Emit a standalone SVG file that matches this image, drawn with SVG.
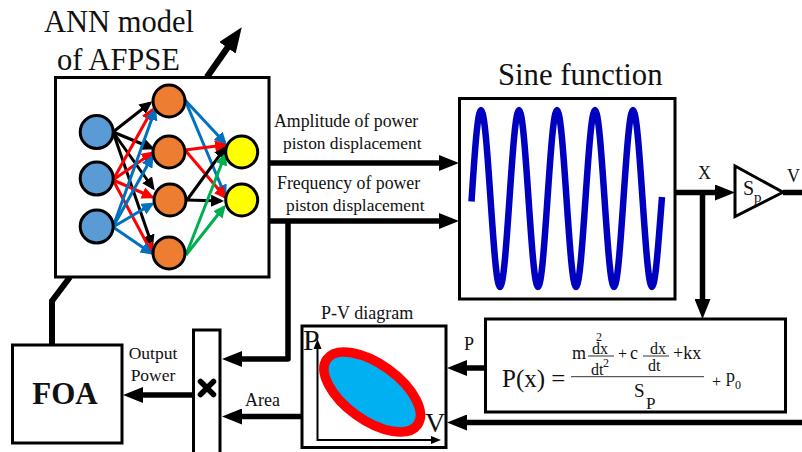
<svg xmlns="http://www.w3.org/2000/svg" width="802" height="452" viewBox="0 0 802 452">
<style>
text{font-family:"Liberation Serif","Times New Roman",serif;fill:#111}
.box{fill:#fff;stroke:#000;stroke-width:3}
.w{fill:none;stroke:#000;stroke-width:5.500}
.n{fill:none;stroke-width:3}
.k{stroke:#000}.r{stroke:#f00}.b{stroke:#0070c0}.g{stroke:#00b050}
.ci{fill:#5b9bd5;stroke:#000;stroke-width:3}
.ch{fill:#ed7d31;stroke:#000;stroke-width:3}
.co{fill:#ff0;stroke:#000;stroke-width:3}
.t18{font-size:18px}
.fl{stroke:#333;stroke-width:1;fill:none}
</style>
<defs>
<marker id="big" markerUnits="userSpaceOnUse" markerWidth="22" markerHeight="16" refX="1" refY="8" orient="auto"><path d="M0 0L20 8L0 16Z" fill="#000"/></marker>
<marker id="huge" markerUnits="userSpaceOnUse" markerWidth="26" markerHeight="20" refX="1" refY="10" orient="auto"><path d="M0 0L25 10L0 20Z" fill="#000"/></marker>
<marker id="ak" markerUnits="userSpaceOnUse" markerWidth="14" markerHeight="12" refX="10" refY="6" orient="auto"><path d="M0 0L13 6L0 12Z" fill="#000"/></marker>
<marker id="ar" markerUnits="userSpaceOnUse" markerWidth="14" markerHeight="12" refX="10" refY="6" orient="auto"><path d="M0 0L13 6L0 12Z" fill="#f00"/></marker>
<marker id="ab" markerUnits="userSpaceOnUse" markerWidth="14" markerHeight="12" refX="10" refY="6" orient="auto"><path d="M0 0L13 6L0 12Z" fill="#0070c0"/></marker>
<marker id="ag" markerUnits="userSpaceOnUse" markerWidth="14" markerHeight="12" refX="10" refY="6" orient="auto"><path d="M0 0L13 6L0 12Z" fill="#00b050"/></marker>
</defs>
<rect width="802" height="452" fill="#fff"/>

<g id="connectors">
<path class="w" style="stroke-width:6.500" d="M207 77L228 47" marker-end="url(#huge)"/>
<path class="w" style="stroke-width:6" d="M52 345V301L70 277"/>
<path class="w" d="M269 163H440" marker-end="url(#big)"/>
<path class="w" d="M269 221H440" marker-end="url(#big)"/>
<path class="w" d="M288 221V359H241" marker-end="url(#big)" stroke-linejoin="round"/>
<path class="w" d="M301 416.500H241" marker-end="url(#big)"/>
<path class="w" d="M193 395H142" marker-end="url(#big)"/>
<path class="w" d="M485 368H466" marker-end="url(#big)"/>
<path class="w" d="M802 422.500H466" marker-end="url(#big)"/>
<path class="w" d="M675 192.500H716" marker-end="url(#big)"/>
<path class="w" d="M702.500 192.500V300" marker-end="url(#big)"/>
<path class="w" d="M783 192.500H802"/>
</g>

<g id="ann-model">
<rect class="box" x="55.500" y="77.500" width="213.500" height="199.500"/>
<g>
<path class="n k" d="M113 132L150 103" marker-end="url(#ak)"/>
<path class="n k" d="M113 132L152 148" marker-end="url(#ak)"/>
<path class="n k" d="M113 132L153 188" marker-end="url(#ak)"/>
<path class="n k" d="M113 132L152 245" marker-end="url(#ak)"/>
<path class="n r" d="M113 180L152 110" marker-end="url(#ar)"/>
<path class="n r" d="M113 180L152 153" marker-end="url(#ar)"/>
<path class="n r" d="M113 180L152 197" marker-end="url(#ar)"/>
<path class="n r" d="M113 180L152 253" marker-end="url(#ar)"/>
<path class="n b" d="M113 227L155 110" marker-end="url(#ab)"/>
<path class="n b" d="M113 227L152 157" marker-end="url(#ab)"/>
<path class="n b" d="M113 227L152 204" marker-end="url(#ab)"/>
<path class="n b" d="M113 227L151 253" marker-end="url(#ab)"/>
<path class="n b" d="M185 100L225 143" marker-end="url(#ab)"/>
<path class="n b" d="M185 100L225 195" marker-end="url(#ab)"/>
<path class="n r" d="M185 150L225 145" marker-end="url(#ar)"/>
<path class="n r" d="M185 150L225 197" marker-end="url(#ar)"/>
<path class="n k" d="M187 200L225 148" marker-end="url(#ak)"/>
<path class="n k" d="M187 200L221 201" marker-end="url(#ak)"/>
<path class="n g" d="M186 255L225 155" marker-end="url(#ag)"/>
<path class="n g" d="M186 255L224 207" marker-end="url(#ag)"/>
</g>
<circle class="ci" cx="96.700" cy="132" r="16.500"/>
<circle class="ci" cx="96.700" cy="178.500" r="16.500"/>
<circle class="ci" cx="96.700" cy="226.500" r="16.500"/>
<circle class="ch" cx="169" cy="101" r="16"/>
<circle class="ch" cx="169" cy="152" r="16"/>
<circle class="ch" cx="170" cy="200" r="16"/>
<circle class="ch" cx="169" cy="253" r="16"/>
<circle class="co" cx="241.700" cy="152" r="16"/>
<circle class="co" cx="241.700" cy="200" r="16"/>
<text x="44" y="32" font-size="30.500">ANN model</text>
<text x="57" y="70" font-size="30.500">of AFPSE</text>
</g>

<g id="edge-labels">
<text class="t18" x="274" y="127" style="font-size:17.800px">Amplitude of power</text>
<text class="t18" x="283" y="149" style="font-size:17.400px">piston displacement</text>
<text class="t18" x="277" y="189" style="font-size:17.800px">Frequency of power</text>
<text class="t18" x="286" y="211" style="font-size:17.400px">piston displacement</text>
<text class="t18" x="698" y="179">X</text>
<text class="t18" x="787" y="182">V</text>
<text class="t18" x="464" y="350">P</text>
<text class="t18" x="245" y="406">Area</text>
<text class="t18" x="153" y="359" text-anchor="middle" style="font-size:17.500px">Output</text>
<text class="t18" x="153" y="381" text-anchor="middle" style="font-size:17.500px">Power</text>
</g>

<g id="sine-function">
<rect class="box" x="459.500" y="98.500" width="215.500" height="200.500"/>
<path d="M471.500 201.500C474.600 153.400 477.560 110 481 110C487.920 110 493.080 287 500 287C506.920 287 512.080 110 519 110C525.920 110 531.080 287 538 287C544.920 287 550.080 110 557 110C563.920 110 569.080 287 576 287C582.920 287 588.080 110 595 110C601.920 110 607.080 287 614 287C620.920 287 626.080 110 633 110C639.920 110 645.080 287 652 287C655.400 287 658.400 243.400 662 197" fill="none" stroke="#0000c0" stroke-width="6.500"/>
<text x="498" y="85" font-size="30.700">Sine function</text>
</g>

<g id="gain-sp">
<path d="M735 166L735 216.500L783 192.300Z" fill="#fff" stroke="#000" stroke-width="3"/>
<text x="743" y="195" font-size="20">S</text>
<text x="754" y="202" font-size="15">p</text>
</g>

<g id="pressure-equation">
<rect class="box" x="485.500" y="319" width="300" height="93"/>
<text x="502" y="387" font-size="25">P(x) =</text>
<path class="fl" d="M571 376.700H704M588 356H614M643 356H669"/>
<text x="572" y="359" font-size="18">m</text>
<text x="592" y="354" font-size="16">dx</text>
<text x="596" y="341" font-size="12">2</text>
<text x="591" y="375" font-size="16">dt</text>
<text x="603" y="367" font-size="12">2</text>
<text x="618" y="359" font-size="16">+</text>
<text x="630" y="359" font-size="18">c</text>
<text x="650" y="354" font-size="16">dx</text>
<text x="648" y="371" font-size="16">dt</text>
<text x="673" y="359" font-size="18">+kx</text>
<text x="712" y="387" font-size="16">+</text>
<text x="726" y="382" font-size="18">p</text>
<text x="735" y="389" font-size="12">0</text>
<text x="634" y="397" font-size="19">S</text>
<text x="646" y="409" font-size="17">P</text>
</g>

<g id="pv-diagram">
<rect class="box" x="302" y="326" width="144" height="121.500"/>
<text x="321" y="319" font-size="18">P-V diagram</text>
<ellipse cx="372.200" cy="392" rx="56" ry="28" transform="rotate(36 372.200 392)" fill="#00b0f0" stroke="#f00" stroke-width="9.500"/>
<path d="M317.500 345V440H435" fill="none" stroke="#000" stroke-width="2"/>
<path d="M317.500 339L313.500 349H321.500ZM441 440L431 436V444Z" fill="#000"/>
<text x="303" y="350" font-size="30">P</text>
<text x="425" y="432" font-size="28">V</text>
</g>

<g id="multiplier">
<rect class="box" x="193.500" y="330" width="26.500" height="125"/>
<path d="M200.500 381.500L213.500 394.500M213.500 381.500L200.500 394.500" stroke="#000" stroke-width="5.500" stroke-linecap="round" fill="none"/>
</g>

<g id="foa">
<rect class="box" x="12.500" y="345" width="109.500" height="98"/>
<text x="65" y="404" font-size="31" font-weight="bold" text-anchor="middle">FOA</text>
</g>
</svg>
